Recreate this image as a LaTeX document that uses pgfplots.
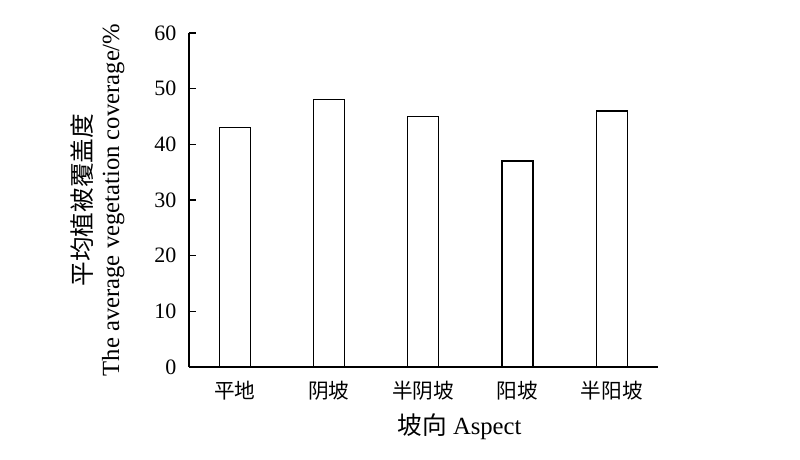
\documentclass[border=0pt]{standalone}
\usepackage{pgfplots}
\pgfplotsset{compat=1.18}
\usepackage{fontspec}
\setmainfont{Liberation Serif}
\newfontfamily\cjk{Noto Sans CJK SC}

\begin{document}
\begin{tikzpicture}
  \begin{axis}[
      name=ax,
      scale only axis,
      width=351.75pt, height=250.5pt,
      ybar, bar width=23.25pt,
      ymin=0, ymax=60, ytick={0,10,...,60},
      xmin=-0.485, xmax=4.49,
      xtick=data,
      xticklabels={{平地},{阴坡},{半阴坡},{阳坡},{半阳坡}},
      axis x line=bottom, axis y line=left,
      axis line style={-, line width=1.1pt},
      x tick style={draw=none},
      y tick style={line width=1pt, black},
      tick align=inside, major tick length=5.5pt,
      /pgf/number format/assume math mode=true,
      yticklabel style={font=\fontsize{16.5}{18}\selectfont, xshift=-6pt},
      xticklabel style={font=\cjk\fontsize{15.5}{18}\selectfont, yshift=-7pt},
      xlabel={{\cjk 坡向} Aspect},
      xlabel style={font=\fontsize{18.5}{20}\selectfont, yshift=-3pt, xshift=27pt},
      ylabel={{\cjk 平均植被覆盖度}\\The average vegetation coverage/\%},
      ylabel style={font=\fontsize{18.5}{20.5}\selectfont, align=center,
        at={([xshift=-68.5pt]rel axis cs:0,0.5)}, anchor=center},
    ]
    \addplot[fill=white, draw=black, line width=0.9pt] coordinates {
      (0,43) (1,48) (2,45) (3,37) (4,46)
    };
  \end{axis}
  \path ([xshift=-141.75pt,yshift=-69.75pt]ax.south west)
    rectangle ([xshift=106.5pt,yshift=24.75pt]ax.north east);
\end{tikzpicture}
\end{document}
